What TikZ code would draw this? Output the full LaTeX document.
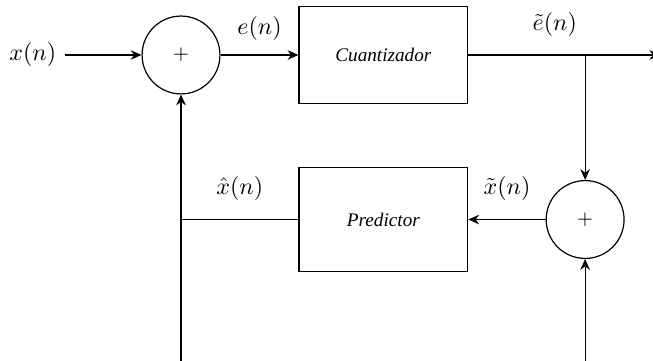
\documentclass[tikz,border=0pt]{standalone}
\usepackage{fontspec}
\usepackage{tikz}
\usetikzlibrary{arrows.meta, positioning}
\newfontfamily\blockfont{Liberation Serif}
\tikzset{
  sumnode/.style={
    draw, circle, line width=0.5pt,
    minimum size=1.14cm, inner sep=0pt,
    font=\footnotesize
  },
  blockbox/.style={
    draw, line width=0.5pt,
    minimum width=2.47cm, minimum height=1.42cm,
    align=center, font=\blockfont\itshape\footnotesize
  },
  siglabel/.style={
    font=\normalsize
  },
  sigarrow/.style={
    -{Stealth[length=4.5pt,width=4pt]},
    line width=0.5pt
  },
  sigline/.style={
    line width=0.5pt
  },
}
\begin{document}
\begin{tikzpicture}
    \useasboundingbox (0,0) rectangle (9.56,-5.285);

    %% Forward path
    \node[sumnode] (sum1) at (2.65,-0.805) {$+$};
    \node[siglabel] (xin) at (0.48,-0.805) {$x(n)$};
    \node[blockbox, right=1.14cm of sum1] (quant) {Cuantizador};
    \coordinate[right=1.71cm of quant.east] (jn);
    \coordinate[right=2.81cm of quant.east] (out);

    \draw[sigarrow] (xin) -- (sum1);
    \draw[sigarrow] (sum1) -- (quant)
      node[siglabel, midway, above=0.08cm] (elab) {$e(n)$};
    \draw[sigarrow] (quant.east) -- (out)
      node[siglabel, pos=0.45, above=0.15cm] (etlab) {$\tilde{e}(n)$};

    %% Feedback path
    \node[sumnode, below=1.83cm of jn] (sum2) {$+$};
    \node[blockbox, minimum height=1.52cm] (pred) at (quant |- sum2) {Predictor};
    \coordinate (bl) at (sum1 |- 0,-5.4);
    \coordinate (br) at (sum2 |- 0,-5.4);

    \draw[sigarrow] (jn) -- (sum2);
    \draw[sigarrow] (sum2) -- (pred)
      node[siglabel, midway, above=0.15cm] (xtlab) {$\tilde{x}(n)$};
    \draw[sigline] (pred.west) -- (pred.west -| sum1)
      node[siglabel, midway, above=0.15cm] (xhlab) {$\hat{x}(n)$};
    \draw[sigarrow] (bl) -- (sum1);
    \draw[sigarrow] (br) -- (sum2);

  \end{tikzpicture}
\end{document}
